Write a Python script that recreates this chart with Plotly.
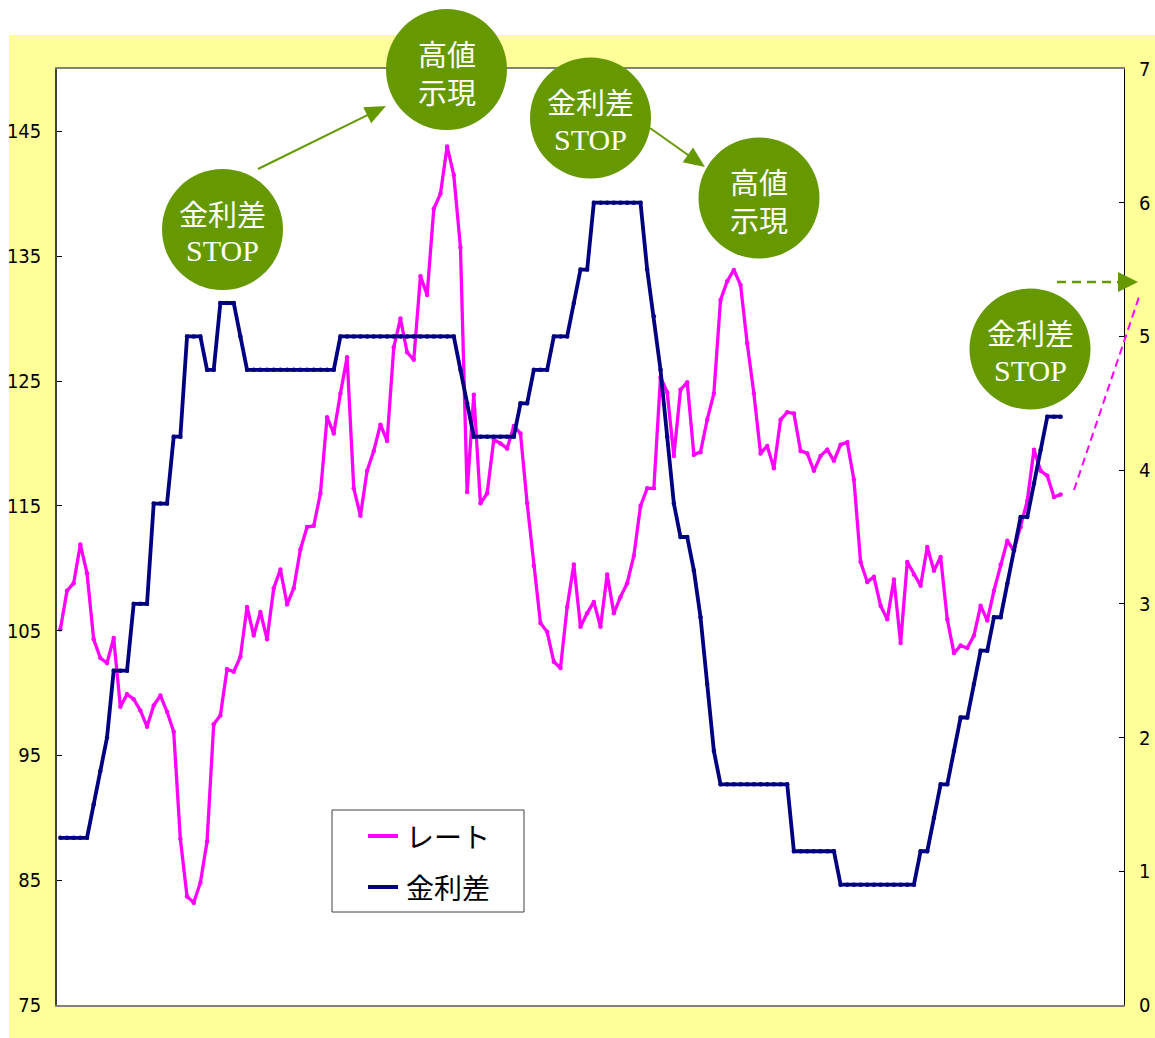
import math
import plotly.graph_objects as go

# ---------------- data ----------------
rate_name = "レート"
spread_name = "金利差"

# monthly positions (category slots 0..159, data fills 0..150)
months = list(range(151))

rate = [105.1, 108.2, 108.8, 111.9, 109.6, 104.3, 102.8, 102.4, 104.4, 98.9,
        99.9, 99.5, 98.6, 97.3, 99.0, 99.8, 98.5, 96.9, 88.3, 83.7,
        83.2, 84.8, 88.1, 97.5, 98.2, 101.9, 101.7, 102.9, 106.9, 104.6,
        106.5, 104.3, 108.4, 109.9, 107.1, 108.4, 111.5, 113.3, 113.4, 116.0,
        122.1, 120.8, 124.0, 126.9, 116.4, 114.2, 117.8, 119.4, 121.5, 120.2,
        127.7, 130.0, 127.3, 126.7, 133.4, 131.9, 138.8, 140.0, 143.8, 141.5,
        135.7, 116.1, 123.9, 115.2, 116.0, 120.3, 120.0, 119.6, 121.4, 120.8,
        115.2, 110.2, 105.6, 104.9, 102.5, 102.0, 106.9, 110.3, 105.3, 106.4,
        107.3, 105.3, 109.5, 106.4, 107.7, 108.8, 111.0, 115.0, 116.4, 116.4,
        125.3, 124.1, 119.0, 124.3, 124.9, 119.1, 119.3, 121.9, 124.0, 131.5,
        133.0, 133.9, 132.7, 128.0, 124.0, 119.2, 119.8, 118.0, 121.9, 122.5,
        122.4, 119.4, 119.2, 117.8, 119.0, 119.5, 118.6, 119.9, 120.1, 117.1,
        110.5, 108.9, 109.3, 107.0, 105.9, 109.1, 104.0, 110.5, 109.5, 108.6,
        111.7, 109.8, 110.9, 105.9, 103.2, 103.8, 103.6, 104.6, 107.0, 105.8,
        108.2, 110.3, 112.2, 111.4, 113.3, 115.4, 119.5, 117.8, 117.4, 115.7,
        115.9]

spread = [1.25, 1.25, 1.25, 1.25, 1.25, 1.5, 1.75, 2.0, 2.5, 2.5,
          2.5, 3.0, 3.0, 3.0, 3.75, 3.75, 3.75, 4.25, 4.25, 5.0,
          5.0, 5.0, 4.75, 4.75, 5.25, 5.25, 5.25, 5.0, 4.75, 4.75,
          4.75, 4.75, 4.75, 4.75, 4.75, 4.75, 4.75, 4.75, 4.75, 4.75,
          4.75, 4.75, 5.0, 5.0, 5.0, 5.0, 5.0, 5.0, 5.0, 5.0,
          5.0, 5.0, 5.0, 5.0, 5.0, 5.0, 5.0, 5.0, 5.0, 5.0,
          4.75, 4.5, 4.25, 4.25, 4.25, 4.25, 4.25, 4.25, 4.25, 4.5,
          4.5, 4.75, 4.75, 4.75, 5.0, 5.0, 5.0, 5.25, 5.5, 5.5,
          6.0, 6.0, 6.0, 6.0, 6.0, 6.0, 6.0, 6.0, 5.5, 5.15,
          4.75, 4.25, 3.75, 3.5, 3.5, 3.25, 2.9, 2.4, 1.9, 1.65,
          1.65, 1.65, 1.65, 1.65, 1.65, 1.65, 1.65, 1.65, 1.65, 1.65,
          1.15, 1.15, 1.15, 1.15, 1.15, 1.15, 1.15, 0.9, 0.9, 0.9,
          0.9, 0.9, 0.9, 0.9, 0.9, 0.9, 0.9, 0.9, 0.9, 1.15,
          1.15, 1.4, 1.65, 1.65, 1.9, 2.15, 2.15, 2.4, 2.65, 2.65,
          2.9, 2.9, 3.15, 3.4, 3.65, 3.65, 3.9, 4.15, 4.4, 4.4,
          4.4]

left_ticks = [75, 85, 95, 105, 115, 125, 135, 145]
right_ticks = [0, 1, 2, 3, 4, 5, 6, 7]

bubble_texts = [("金利差", "STOP"), ("高値", "示現"), ("金利差", "STOP"),
                ("高値", "示現"), ("金利差", "STOP")]

# ---------------- style / geometry ----------------
W, H = 1155, 1038
PL, PR, PT, PB = 57, 1124, 69, 1005
RATE_C = "#FF00FF"
SPREAD_C = "#000080"
GREEN = "#669900"
YELLOW = "#FFFF99"
TICK_FONT = "Liberation Sans Narrow, DejaVu Sans Condensed, Roboto Condensed, Liberation Sans, sans-serif"
JP_FONT = "Noto Sans CJK JP, Noto Sans CJK SC, sans-serif"
SERIF = "Liberation Serif, DejaVu Serif, serif"


def px(x):
    return (x - PL) / (PR - PL)


def py(y):
    return (PB - y) / (PB - PT)


fig = go.Figure()
fig.add_trace(go.Scatter(x=months, y=rate, name=rate_name, mode="lines+markers",
                         line=dict(color=RATE_C, width=3.3),
                         marker=dict(color=RATE_C, size=4.5), yaxis="y"))
fig.add_trace(go.Scatter(x=months, y=spread, name=spread_name, mode="lines+markers",
                         line=dict(color=SPREAD_C, width=3.8),
                         marker=dict(color=SPREAD_C, size=4.5), yaxis="y2"))

shapes = []
annotations = []

# background panels
shapes.append(dict(type="rect", xref="paper", yref="paper", layer="below",
                   x0=px(9), x1=px(1160), y0=py(1045), y1=py(35),
                   fillcolor=YELLOW, line=dict(width=0)))
shapes.append(dict(type="rect", xref="paper", yref="paper", layer="below",
                   x0=0, x1=1, y0=0, y1=1, fillcolor="white", line=dict(width=0)))


def add_arrow(x0, y0, x1, y1, dash="solid", hl=21, hw=9, color=GREEN, width=2):
    dx, dy = x1 - x0, y1 - y0
    ln = math.hypot(dx, dy)
    ux, uy = dx / ln, dy / ln
    bx, by = x1 - ux * hl, y1 - uy * hl
    nx, ny = -uy, ux
    shapes.append(dict(type="line", xref="paper", yref="paper",
                       x0=px(x0), y0=py(y0), x1=px(bx + ux * 2), y1=py(by + uy * 2),
                       line=dict(color=color, width=width, dash=dash)))
    path = "M {:.5f},{:.5f} L {:.5f},{:.5f} L {:.5f},{:.5f} Z".format(
        px(x1), py(y1), px(bx + nx * hw), py(by + ny * hw), px(bx - nx * hw), py(by - ny * hw))
    shapes.append(dict(type="path", xref="paper", yref="paper", path=path,
                       fillcolor=color, line=dict(width=0)))


add_arrow(258, 169, 386, 106)
add_arrow(650, 128, 705, 167)
add_arrow(1057, 282, 1138, 282, dash="9px,6px", hl=20, hw=10, width=2.5)

# projected rate (dashed)
shapes.append(dict(type="line", xref="paper", yref="paper",
                   x0=px(1074), y0=py(490), x1=px(1139), y1=py(297),
                   line=dict(color=RATE_C, width=2, dash="8px,5px")))

# bubbles
centers = [(222.5, 229.5), (446.5, 69.5), (590.5, 118), (759, 198), (1030, 349)]
R = 60.5
for (cx, cy), (t1, t2) in zip(centers, bubble_texts):
    shapes.append(dict(type="circle", xref="paper", yref="paper",
                       x0=px(cx - R), x1=px(cx + R), y0=py(cy + R), y1=py(cy - R),
                       fillcolor=GREEN, line=dict(width=0), layer="above"))
    annotations.append(dict(xref="paper", yref="paper", x=px(cx), y=py(cy - 17),
                            text=t1, showarrow=False, xanchor="center", yanchor="middle",
                            height=32, valign="middle",
                            font=dict(family=JP_FONT, size=29, color="white")))
    fam2 = SERIF if t2 == "STOP" else JP_FONT
    size2 = 30 if t2 == "STOP" else 29
    annotations.append(dict(xref="paper", yref="paper", x=px(cx), y=py(cy + 21),
                            text=t2, showarrow=False, xanchor="center", yanchor="middle",
                            height=32, valign="middle",
                            font=dict(family=fam2, size=size2, color="white")))

# legend (drawn)
shapes.append(dict(type="rect", xref="paper", yref="paper",
                   x0=px(332), x1=px(524), y0=py(912), y1=py(810),
                   fillcolor="white", line=dict(color="#404040", width=1)))
for (yy, nm, col) in [(836, rate_name, RATE_C), (887, spread_name, SPREAD_C)]:
    shapes.append(dict(type="line", xref="paper", yref="paper",
                       x0=px(368), x1=px(398), y0=py(yy), y1=py(yy),
                       line=dict(color=col, width=4)))
    annotations.append(dict(xref="paper", yref="paper", x=px(404), y=py(yy),
                            text=nm, showarrow=False, xanchor="left", yanchor="middle",
                            font=dict(family=JP_FONT, size=28, color="black")))

axis_common = dict(showgrid=False, zeroline=False, ticks="inside", ticklen=5,
                   tickwidth=1, tickcolor="black", showline=True, automargin=False,
                   tickfont=dict(family=TICK_FONT, size=20, color="black"),
                   ticklabelstandoff=10)

fig.update_layout(
    width=W, height=H,
    margin=dict(l=PL, r=W - PR, t=PT, b=H - PB, pad=0, autoexpand=False),
    paper_bgcolor="white",
    plot_bgcolor="rgba(0,0,0,0)",
    showlegend=False,
    xaxis=dict(range=[-0.5, 159.5], showticklabels=False, ticks="", showgrid=False,
               automargin=False,
               zeroline=False, showline=True, linecolor="#808080", linewidth=2, mirror=True),
    yaxis=dict(range=[75, 150], tickvals=left_ticks, linecolor="#404040", linewidth=1.5,
               **axis_common),
    yaxis2=dict(range=[0, 7], tickvals=right_ticks, overlaying="y", side="right",
                linecolor="black", linewidth=1.2, **axis_common),
    shapes=shapes,
    annotations=annotations,
)

fig.write_html("out.html")
